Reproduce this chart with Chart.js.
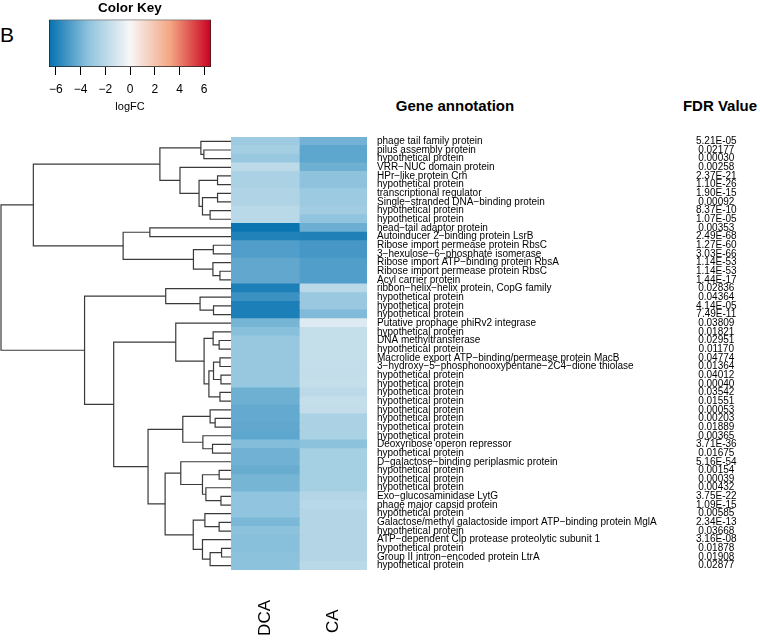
<!DOCTYPE html>
<html><head><meta charset="utf-8">
<script src="https://cdn.jsdelivr.net/npm/chart.js@4.4.1/dist/chart.umd.min.js"></script>
<style>
html,body{margin:0;padding:0;background:#fff;width:760px;height:641px;overflow:hidden;font-family:"Liberation Sans",Arial,sans-serif;}
canvas{position:absolute;}
.t{position:absolute;white-space:nowrap;color:#000;font-family:"Liberation Sans",Arial,sans-serif;}
</style></head><body>
<div class="t" style="left:0;top:24px;font-size:21px;line-height:21px">B</div>
<div class="t" style="left:372px;top:97px;width:166px;text-align:center;font-weight:bold;font-size:15px;line-height:17px">Gene annotation</div>
<div class="t" style="left:680px;top:97px;width:80px;text-align:center;font-weight:bold;font-size:15px;line-height:17px">FDR Value</div>
<canvas id="key" width="200" height="118" style="left:30px;top:0"></canvas>
<canvas id="dendro" width="231" height="433" style="left:0;top:137px"></canvas>
<canvas id="heat" width="529" height="524" style="left:231px;top:117px"></canvas>
<script>
// ---------------- data ----------------
const columns = ['DCA', 'CA'];
const genes = [
 'phage tail family protein','pilus assembly protein','hypothetical protein','VRR\u2212NUC domain protein',
 'HPr\u2212like protein Crh','hypothetical protein','transcriptional regulator','Single\u2212stranded DNA\u2212binding protein',
 'hypothetical protein','hypothetical protein','head\u2212tail adaptor protein','Autoinducer 2\u2212binding protein LsrB',
 'Ribose import permease protein RbsC','3\u2212hexulose\u22126\u2212phosphate isomerase','Ribose import ATP\u2212binding protein RbsA',
 'Ribose import permease protein RbsC','Acyl carrier protein','ribbon\u2212helix\u2212helix protein, CopG family',
 'hypothetical protein','hypothetical protein','hypothetical protein','Putative prophage phiRv2 integrase',
 'hypothetical protein','DNA methyltransferase','hypothetical protein',
 'Macrolide export ATP\u2212binding/permease protein MacB','3\u2212hydroxy\u22125\u2212phosphonooxypentane\u22122C4\u2212dione thiolase',
 'hypothetical protein','hypothetical protein','hypothetical protein','hypothetical protein','hypothetical protein',
 'hypothetical protein','hypothetical protein','hypothetical protein','Deoxyribose operon repressor',
 'hypothetical protein','D\u2212galactose\u2212binding periplasmic protein','hypothetical protein','hypothetical protein',
 'hypothetical protein','Exo\u2212glucosaminidase LytG','phage major capsid protein','hypothetical protein',
 'Galactose/methyl galactoside import ATP\u2212binding protein MglA','hypothetical protein',
 'ATP\u2212dependent Clp protease proteolytic subunit 1','hypothetical protein','Group II intron\u2212encoded protein LtrA',
 'hypothetical protein'
];
const fdr = [
 '5.21E-05','0.02177','0.00030','0.00258','2.37E-21','1.10E-26','1.90E-15','0.00092','8.37E-10','1.07E-05',
 '0.00353','2.49E-68','1.27E-60','3.03E-66','1.14E-53','1.14E-53','1.44E-17','0.02836','0.04364','4.14E-05',
 '7.49E-11','0.03809','0.01821','0.02951','0.01170','0.04774','0.01364','0.04012','0.00040','0.03542',
 '0.01551','0.00053','0.00203','0.01889','0.00365','3.71E-36','0.01675','5.16E-54','0.00154','0.00039',
 '0.00432','3.75E-22','1.09E-15','0.00585','2.34E-13','0.03668','3.16E-08','0.01878','0.01908','0.02877'
];
const logFC_DCA = [
 -2.9,-2.7,-3.1,-1.9,-2.5,-2.5,-2.3,-2.3,-2.0,-2.0,
 -6.4,-5.9,-4.8,-4.8,-4.4,-4.4,-4.4,-6.0,-5.3,-6.0,
 -6.0,-3.9,-3.5,-3.1,-3.1,-3.1,-3.1,-3.1,-3.1,-4.1,
 -4.1,-4.35,-4.35,-4.4,-4.5,-3.6,-4.05,-4.05,-4.25,-3.9,
 -3.9,-3.3,-3.3,-3.3,-3.8,-3.4,-3.5,-3.5,-3.4,-3.4
];
const logFC_CA = [
 -4.0,-4.5,-4.5,-4.1,-3.35,-3.35,-2.95,-2.95,-2.8,-3.3,
 -4.15,-5.95,-5.05,-5.05,-4.8,-4.8,-4.8,-2.0,-3.05,-3.05,
 -3.7,-0.85,-1.65,-1.65,-1.65,-1.65,-1.7,-1.7,-1.65,-1.95,
 -1.65,-1.7,-2.45,-2.45,-2.45,-3.4,-2.65,-2.65,-2.65,-2.65,
 -2.65,-2.2,-2.0,-2.2,-2.2,-2.2,-2.2,-2.2,-2.2,-2.0
];
const keyRange = [-6.55, 6.55];
const keyTicks = [-6, -4, -2, 0, 2, 4, 6];
// row dendrogram (hclust style: negative = leaf row number, positive = earlier merge)
const mergeA = [-2,-1,-5,-7,-9,4,3,-4,2, -11,-13,-16,-15,11,10,9, -20,-19,-18,
                -24,-23,-26,-28,22,-30,24,21,-22, -33,-32,-36,-35,30, -39,-42,-41,34,-38,
                -45,-44,-48,41,-47,40,38,33,28,19,16];
const mergeB = [-3,1,-6,-8,-10,5,6,7,8, -12,-14,-17,12,13,14,15, -21,17,18,
                -25,20,-27,-29,23,-31,25,26,27, -34,29,-37,31,32, -40,-43,35,36,37,
                -46,39,-49,-50,42,43,44,45,46,47,48];
const mergeH = [1.35,1.50,0.67,0.67,1.04,1.42,1.59,2.54,3.54, 4.04,0.88,0.55,0.90,1.87,5.37,9.84, 0.87,1.54,3.25,
                0.59,0.89,0.55,0.50,0.87,0.55,1.10,1.34,2.75, 0.79,1.04,0.92,1.40,2.40,
                0.59,0.50,1.25,1.42,2.50, 0.59,1.30,0.47,1.04,1.42,1.88,3.28,4.13,5.84,7.29,11.45];

// ---------------- colour scale ----------------
const stops = [[-6.55,[5,113,176]],[-3.275,[146,197,222]],[0,[247,247,247]],[3.275,[244,165,130]],[6.55,[202,0,32]]];
function colorFor(v){
  if (v <= stops[0][0]) return 'rgb(' + stops[0][1].join(',') + ')';
  for (let i = 1; i < stops.length; i++) {
    if (v <= stops[i][0]) {
      const t = (v - stops[i-1][0]) / (stops[i][0] - stops[i-1][0]);
      const c = stops[i-1][1].map((a, k) => Math.round(a + t * (stops[i][1][k] - a)));
      return 'rgb(' + c.join(',') + ')';
    }
  }
  return 'rgb(' + stops[stops.length-1][1].join(',') + ')';
}
const FONT = '"Liberation Sans", Arial, sans-serif';
Chart.defaults.font.family = FONT;
Chart.defaults.color = '#000';

// ---------------- colour key ----------------
new Chart(document.getElementById('key'), {
  type: 'bar',
  data: { labels: ['key'], datasets: [{
    data: [keyRange],
    backgroundColor: (ctx) => {
      const ch = ctx.chart; if (!ch.chartArea) return '#fff';
      const xs = ch.scales.x;
      const x0 = xs.getPixelForValue(keyRange[0]), x1 = xs.getPixelForValue(keyRange[1]);
      const g = ch.ctx.createLinearGradient(x0, 0, x1, 0);
      stops.forEach(s => g.addColorStop((s[0]-keyRange[0])/(keyRange[1]-keyRange[0]), 'rgb(' + s[1].join(',') + ')'));
      return g;
    },
    borderColor: '#222', borderWidth: 1, borderSkipped: false,
    barPercentage: 1, categoryPercentage: 1
  }]},
  options: {
    indexAxis: 'y', responsive: false, animation: false,
    layout: { padding: { left: 19, right: 19, top: 0, bottom: 0 } },
    plugins: { legend: { display: false }, tooltip: { enabled: false },
      title: { display: true, text: 'Color Key', font: { size: 13.5, weight: 'bold' }, padding: { top: 0, bottom: 3.3 }, color: '#000' } },
    scales: {
      y: { display: false },
      x: { type: 'linear', min: keyRange[0], max: keyRange[1],
        afterBuildTicks: s => { s.ticks = keyTicks.map(v => ({ value: v })); },
        afterFit: s => { s.height = 51; s.paddingLeft = 0; s.paddingRight = 0; },
        grid: { drawOnChartArea: false, drawTicks: true, tickLength: 8, color: '#000', lineWidth: 1 },
        border: { display: false },
        ticks: { font: { size: 12 }, padding: 7, color: '#000', maxRotation: 0, autoSkip: false,
                 callback: v => (v < 0 ? '\u2212' + Math.abs(v) : String(v)) },
        title: { display: true, text: 'logFC', font: { size: 11 }, padding: { top: 0, bottom: 4 }, color: '#000' }
      }
    }
  }
});

// ---------------- dendrogram ----------------
(function(){
  const nodeY = [], nodeH = [];
  const pos = id => id < 0 ? { y: -id - 1, h: 0 } : { y: nodeY[id-1], h: nodeH[id-1] };
  const datasets = [];
  for (let k = 0; k < mergeA.length; k++) {
    const a = pos(mergeA[k]), b = pos(mergeB[k]), h = mergeH[k];
    nodeY.push((a.y + b.y) / 2); nodeH.push(h);
    datasets.push({ data: [{x:a.h,y:a.y},{x:h,y:a.y},{x:h,y:b.y},{x:b.h,y:b.y}],
      showLine: true, pointRadius: 0, borderColor: '#3a3a3a', borderWidth: 1.2, tension: 0, fill: false });
  }
  new Chart(document.getElementById('dendro'), {
    type: 'scatter',
    data: { datasets },
    options: { responsive: false, animation: false,
      layout: { padding: 0 },
      plugins: { legend: { display: false }, tooltip: { enabled: false } },
      scales: {
        x: { type: 'linear', reverse: true, min: 0, max: 11.5, display: false },
        y: { type: 'linear', reverse: true, min: -0.5, max: genes.length - 0.5, display: false }
      }
    }
  });
})();

// ---------------- heatmap ----------------
const values = [logFC_DCA, logFC_CA];
const maxColLen = Math.max(...columns.map(c => c.length));
new Chart(document.getElementById('heat'), {
  type: 'bar',
  data: { labels: genes, datasets: columns.map((c, ci) => ({
    label: c, data: genes.map(() => [ci, ci + 1]),
    backgroundColor: values[ci].map(colorFor), borderWidth: 0, inflateAmount: 0.6,
    barPercentage: 1, categoryPercentage: 1, grouped: false
  }))},
  options: {
    indexAxis: 'y', responsive: false, animation: false,
    layout: { padding: { top: 20, left: 0, right: 0, bottom: 0 } },
    plugins: { legend: { display: false }, tooltip: { enabled: false } },
    scales: {
      x: { type: 'linear', min: 0, max: columns.length, position: 'bottom',
        afterBuildTicks: s => { s.ticks = columns.map((c, i) => ({ value: i + 0.5 })); },
        afterFit: s => { s.height = 71; s.paddingLeft = 0; s.paddingRight = 0; },
        grid: { display: false, drawTicks: false }, border: { display: false },
        ticks: { autoSkip: false, minRotation: 90, maxRotation: 90, padding: 30, font: { size: 17 }, color: '#000',
                 callback: (v, i) => columns[i] + '\u2007'.repeat(maxColLen - columns[i].length) } },
      y: { type: 'category', labels: genes, position: 'right', offset: true,
        afterFit: s => { s.width = 313; s.paddingTop = 0; s.paddingBottom = 0; },
        grid: { display: false, drawTicks: false }, border: { display: false },
        ticks: { autoSkip: false, padding: 10, font: { size: 10 }, color: '#000', crossAlign: 'near' } },
      yF: { type: 'category', labels: fdr, position: 'right', offset: true,
        afterFit: s => { s.width = 80; s.paddingTop = 0; s.paddingBottom = 0; },
        grid: { display: false, drawTicks: false }, border: { display: false },
        ticks: { autoSkip: false, padding: 16, font: { size: 10 }, color: '#000', crossAlign: 'center' } }
    }
  }
});
</script>
</body></html>
